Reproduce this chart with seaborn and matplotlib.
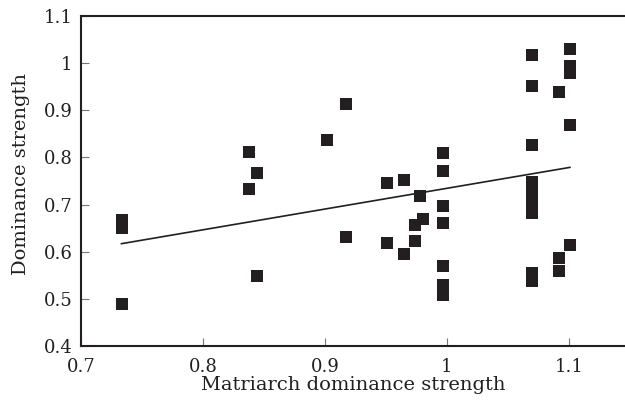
import numpy as np
import pandas as pd
import matplotlib
matplotlib.use('Agg')
import matplotlib.pyplot as plt
import seaborn as sns

# valores
matriarch = [0.734, 0.734, 0.734, 0.838, 0.838, 0.844, 0.844, 0.902, 0.917, 0.917,
             0.951, 0.951, 0.965, 0.965, 0.978, 0.980, 0.974, 0.974,
             0.997, 0.997, 0.997, 0.997, 0.997, 0.997, 0.997,
             1.070, 1.070, 1.070, 1.070, 1.070, 1.070, 1.070, 1.070, 1.070, 1.070,
             1.092, 1.092, 1.092, 1.101, 1.101, 1.101, 1.101, 1.101]
dominance = [0.667, 0.650, 0.489, 0.812, 0.733, 0.767, 0.549, 0.837, 0.913, 0.632,
             0.745, 0.618, 0.752, 0.596, 0.718, 0.670, 0.656, 0.623,
             0.809, 0.771, 0.697, 0.661, 0.570, 0.529, 0.508,
             1.017, 0.952, 0.827, 0.748, 0.732, 0.715, 0.698, 0.682, 0.554, 0.537,
             0.938, 0.587, 0.560, 1.031, 0.993, 0.980, 0.868, 0.615]
# reta ajustada
intercepto = 0.2943
inclinacao = 0.4402
xticks = [0.7, 0.8, 0.9, 1.0, 1.1]
xticklabels = ['0.7', '0.8', '0.9', '1', '1.1']
yticks = [0.4, 0.5, 0.6, 0.7, 0.8, 0.9, 1.0, 1.1]
yticklabels = ['0.4', '0.5', '0.6', '0.7', '0.8', '0.9', '1', '1.1']

df = pd.DataFrame({'Matriarca': matriarch, 'Dominancia': dominance})
x_reta = np.array([df['Matriarca'].min() - 0.001, df['Matriarca'].max()])
reta = pd.DataFrame({'x': x_reta, 'y': intercepto + inclinacao * x_reta})

sns.set_style('ticks')
plt.rcParams['font.family'] = ['DejaVu Serif']

fig = plt.figure(figsize=(6.25, 4.07), dpi=100)
ax = fig.add_axes([0.1296, 0.1499, 0.8704, 0.8108])

sns.scatterplot(data=df, x='Matriarca', y='Dominancia', ax=ax, marker='s',
                s=78, color='#231f20', linewidth=0)
sns.lineplot(data=reta, x='x', y='y', ax=ax, color='#231f20', linewidth=1.2)

ax.set_xlim(0.7, 1.146)
ax.set_ylim(0.4, 1.1)
ax.set_xticks(xticks)
ax.set_xticklabels(xticklabels)
ax.set_yticks(yticks)
ax.set_yticklabels(yticklabels)
ax.tick_params(direction='in', length=5.5, width=0.8, color='#777777',
               labelsize=13, labelcolor='#231f20', pad=6)
ax.tick_params(axis='x', pad=9)
for side in ['left', 'bottom', 'top']:
    ax.spines[side].set_linewidth(1.5)
    ax.spines[side].set_color('#231f20')
ax.spines['right'].set_visible(False)

ax.set_xlabel('Matriarch dominance strength', fontsize=14, color='#231f20')
ax.set_ylabel('Dominance strength', fontsize=14, color='#231f20')
ax.xaxis.set_label_coords(0.5, -0.09)
ax.yaxis.set_label_coords(-0.093, 0.52)

fig.savefig('out.png', dpi=100)
